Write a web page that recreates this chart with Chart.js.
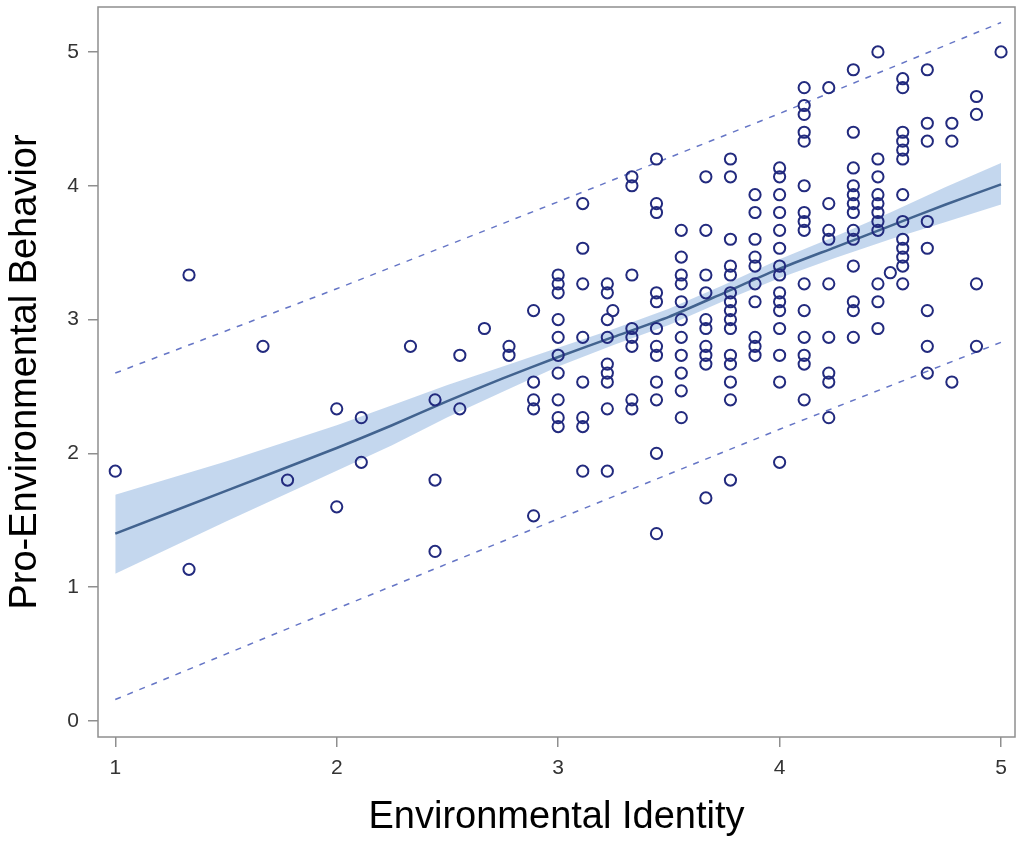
<!DOCTYPE html>
<html>
<head>
<meta charset="utf-8">
<script src="https://cdn.jsdelivr.net/npm/chart.js@4.4.1/dist/chart.umd.min.js"></script>
<style>
  html, body { margin: 0; padding: 0; background: #ffffff; }
  #wrap { width: 1017px; height: 844px; }
</style>
</head>
<body>
<div id="wrap"><canvas id="c" width="1017" height="844"></canvas></div>
<script>
// ---- Data ----
const identity = [
  1.000,
  1.333, 1.333,
  1.667,
  1.778,
  2.000, 2.000,
  2.111, 2.111,
  2.333,
  2.444, 2.444, 2.444,
  2.556, 2.556,
  2.667,
  2.778, 2.778,
  2.889, 2.889, 2.889, 2.889, 2.889,
  3.000, 3.000, 3.000, 3.000, 3.000, 3.000, 3.000, 3.000, 3.000, 3.000,
  3.111, 3.111, 3.111, 3.111, 3.111, 3.111, 3.111, 3.111,
  3.222, 3.222, 3.222, 3.222, 3.222, 3.222, 3.222, 3.222, 3.222,
  3.247,
  3.333, 3.333, 3.333, 3.333, 3.333, 3.333, 3.333, 3.333,
  3.444, 3.444, 3.444, 3.444, 3.444, 3.444, 3.444, 3.444, 3.444, 3.444, 3.444, 3.444,
  3.556, 3.556, 3.556, 3.556, 3.556, 3.556, 3.556, 3.556, 3.556, 3.556, 3.556,
  3.667, 3.667, 3.667, 3.667, 3.667, 3.667, 3.667, 3.667, 3.667, 3.667,
  3.778, 3.778, 3.778, 3.778, 3.778, 3.778, 3.778, 3.778, 3.778, 3.778, 3.778, 3.778, 3.778, 3.778, 3.778,
  3.889, 3.889, 3.889, 3.889, 3.889, 3.889, 3.889, 3.889, 3.889, 3.889,
  4.000, 4.000, 4.000, 4.000, 4.000, 4.000, 4.000, 4.000, 4.000, 4.000, 4.000, 4.000, 4.000, 4.000, 4.000,
  4.111, 4.111, 4.111, 4.111, 4.111, 4.111, 4.111, 4.111, 4.111, 4.111, 4.111, 4.111, 4.111, 4.111, 4.111,
  4.222, 4.222, 4.222, 4.222, 4.222, 4.222, 4.222, 4.222, 4.222,
  4.333, 4.333, 4.333, 4.333, 4.333, 4.333, 4.333, 4.333, 4.333, 4.333, 4.333, 4.333, 4.333,
  4.444, 4.444, 4.444, 4.444, 4.444, 4.444, 4.444, 4.444, 4.444, 4.444, 4.444,
  4.500,
  4.556, 4.556, 4.556, 4.556, 4.556, 4.556, 4.556, 4.556, 4.556, 4.556, 4.556, 4.556, 4.556,
  4.667, 4.667, 4.667, 4.667, 4.667, 4.667, 4.667, 4.667,
  4.778, 4.778, 4.778,
  4.889, 4.889, 4.889, 4.889,
  5.000
];
const behavior = [
  1.867,
  3.333, 1.133,
  2.800,
  1.800,
  2.333, 1.600,
  2.267, 1.933,
  2.800,
  2.400, 1.800, 1.267,
  2.733, 2.333,
  2.933,
  2.800, 2.733,
  3.067, 2.533, 2.400, 2.333, 1.533,
  3.333, 3.267, 3.200, 3.000, 2.867, 2.733, 2.600, 2.400, 2.267, 2.200,
  3.867, 3.533, 3.267, 2.867, 2.533, 2.267, 2.200, 1.867,
  3.267, 3.200, 3.000, 2.867, 2.667, 2.600, 2.533, 2.333, 1.867,
  3.067,
  4.067, 4.000, 3.333, 2.933, 2.867, 2.800, 2.400, 2.333,
  4.200, 3.867, 3.800, 3.200, 3.133, 2.933, 2.800, 2.733, 2.533, 2.400, 2.000, 1.400,
  3.667, 3.467, 3.333, 3.267, 3.133, 3.000, 2.867, 2.733, 2.600, 2.467, 2.267,
  4.067, 3.667, 3.333, 3.200, 3.000, 2.933, 2.800, 2.733, 2.667, 1.667,
  4.200, 4.067, 3.600, 3.400, 3.333, 3.200, 3.133, 3.067, 3.000, 2.933, 2.733, 2.667, 2.533, 2.400, 1.800,
  3.933, 3.800, 3.600, 3.467, 3.400, 3.267, 3.133, 2.867, 2.800, 2.733,
  4.133, 4.067, 3.933, 3.800, 3.667, 3.533, 3.400, 3.333, 3.200, 3.133, 3.067, 2.933, 2.733, 2.533, 1.933,
  4.733, 4.600, 4.533, 4.400, 4.333, 4.000, 3.800, 3.733, 3.667, 3.267, 3.067, 2.867, 2.733, 2.667, 2.400,
  4.733, 3.867, 3.667, 3.600, 3.267, 2.867, 2.600, 2.533, 2.267,
  4.867, 4.400, 4.133, 4.000, 3.933, 3.867, 3.800, 3.667, 3.600, 3.400, 3.133, 3.067, 2.867,
  5.000, 4.200, 4.067, 3.933, 3.867, 3.800, 3.733, 3.667, 3.267, 3.133, 2.933,
  3.350,
  4.800, 4.733, 4.400, 4.333, 4.267, 4.200, 3.933, 3.733, 3.600, 3.533, 3.467, 3.400, 3.267,
  4.867, 4.467, 4.333, 3.733, 3.533, 3.067, 2.800, 2.600,
  4.467, 4.333, 2.533,
  4.667, 4.533, 3.267, 2.800,
  5.000
];

// Fitted curve and its confidence band (CLM)
const fitX      = [1.00, 1.50, 2.00, 2.25, 2.50, 2.75, 3.00, 3.25, 3.50, 3.75, 4.00, 4.25, 4.50, 4.75, 5.00];
const fitY      = [1.40, 1.72, 2.04, 2.21, 2.39, 2.56, 2.72, 2.87, 3.02, 3.20, 3.38, 3.54, 3.70, 3.86, 4.01];
const clmUpper  = [1.69, 1.94, 2.21, 2.36, 2.51, 2.65, 2.79, 2.93, 3.08, 3.26, 3.45, 3.62, 3.80, 3.99, 4.17];
const clmLower  = [1.10, 1.49, 1.87, 2.06, 2.27, 2.46, 2.65, 2.81, 2.96, 3.14, 3.31, 3.46, 3.60, 3.73, 3.86];

// Prediction limits (dashed)
const pliX      = [1, 2, 3, 4, 5];
const pliUpper  = [2.60, 3.23, 3.88, 4.54, 5.22];
const pliLower  = [0.16, 0.84, 1.51, 2.18, 2.83];

// Tick labels
const xTicks = [1, 2, 3, 4, 5];
const yTicks = [0, 1, 2, 3, 4, 5];

// ---- Build datasets from the arrays ----
const pts = (xs, ys) => xs.map((x, i) => ({ x: x, y: ys[i] }));

const framePlugin = {
  id: 'frame',
  beforeDatasetsDraw(chart) {
    const a = chart.chartArea, ctx = chart.ctx;
    ctx.save();
    ctx.strokeStyle = '#8f8f8f';
    ctx.lineWidth = 1.5;
    ctx.strokeRect(a.left, a.top, a.right - a.left, a.bottom - a.top);
    ctx.restore();
  }
};

const FONT = "'Liberation Sans', Arial, sans-serif";

new Chart(document.getElementById('c'), {
  type: 'scatter',
  data: {
    datasets: [
      { label: 'CLM upper', data: pts(fitX, clmUpper), showLine: true, pointRadius: 0,
        borderWidth: 0, borderColor: 'rgba(0,0,0,0)', backgroundColor: 'rgba(190,211,236,0.9)', fill: '+1', order: 5 },
      { label: 'CLM lower', data: pts(fitX, clmLower), showLine: true, pointRadius: 0,
        borderWidth: 0, borderColor: 'rgba(0,0,0,0)', fill: false, order: 5 },
      { label: 'Fit', data: pts(fitX, fitY), showLine: true, pointRadius: 0, tension: 0.2,
        borderColor: '#42638f', borderWidth: 2.5, fill: false, order: 4 },
      { label: 'Upper PL', data: pts(pliX, pliUpper), showLine: true, pointRadius: 0,
        borderColor: '#6676c6', borderWidth: 1.5, borderDash: [6, 7], fill: false, order: 3 },
      { label: 'Lower PL', data: pts(pliX, pliLower), showLine: true, pointRadius: 0,
        borderColor: '#6676c6', borderWidth: 1.5, borderDash: [6, 7], fill: false, order: 3 },
      { label: 'Observed', data: pts(identity, behavior), showLine: false,
        pointStyle: 'circle', pointRadius: 5.6, borderWidth: 2,
        borderColor: '#222a7e', backgroundColor: 'rgba(0,0,0,0)', order: 1 }
    ]
  },
  options: {
    responsive: false,
    animation: false,
    devicePixelRatio: 1,
    layout: { autoPadding: false, padding: { top: 7, right: 2, left: 0, bottom: 0 } },
    plugins: { legend: { display: false }, tooltip: { enabled: false } },
    scales: {
      x: {
        type: 'linear', min: 0.922, max: 5.063,
        afterBuildTicks: s => { s.ticks = xTicks.map(v => ({ value: v })); },
        afterFit: s => { s.height = 107; s.paddingLeft = 0; s.paddingRight = 0; },
        border: { display: false },
        grid: { drawOnChartArea: false, drawTicks: true, tickLength: 10, color: '#8f8f8f', lineWidth: 1.5 },
        ticks: { font: { family: FONT, size: 21 }, color: '#333333', padding: 9, maxRotation: 0, autoSkip: false },
        title: { display: true, text: 'Environmental Identity', color: '#000000',
                 font: { family: FONT, size: 38 }, padding: { top: 0, bottom: 4 } }
      },
      y: {
        type: 'linear', min: -0.12, max: 5.336,
        afterBuildTicks: s => { s.ticks = yTicks.map(v => ({ value: v })); },
        afterFit: s => { s.width = 98; s.paddingTop = 0; s.paddingBottom = 0; },
        border: { display: false },
        grid: { drawOnChartArea: false, drawTicks: true, tickLength: 10, color: '#8f8f8f', lineWidth: 1.5 },
        ticks: { font: { family: FONT, size: 21 }, color: '#333333', padding: 9, autoSkip: false },
        title: { display: true, text: 'Pro-Environmental Behavior', color: '#000000',
                 font: { family: FONT, size: 38 }, padding: { top: 3, bottom: 0 } }
      }
    }
  },
  plugins: [framePlugin]
});
</script>
</body>
</html>
